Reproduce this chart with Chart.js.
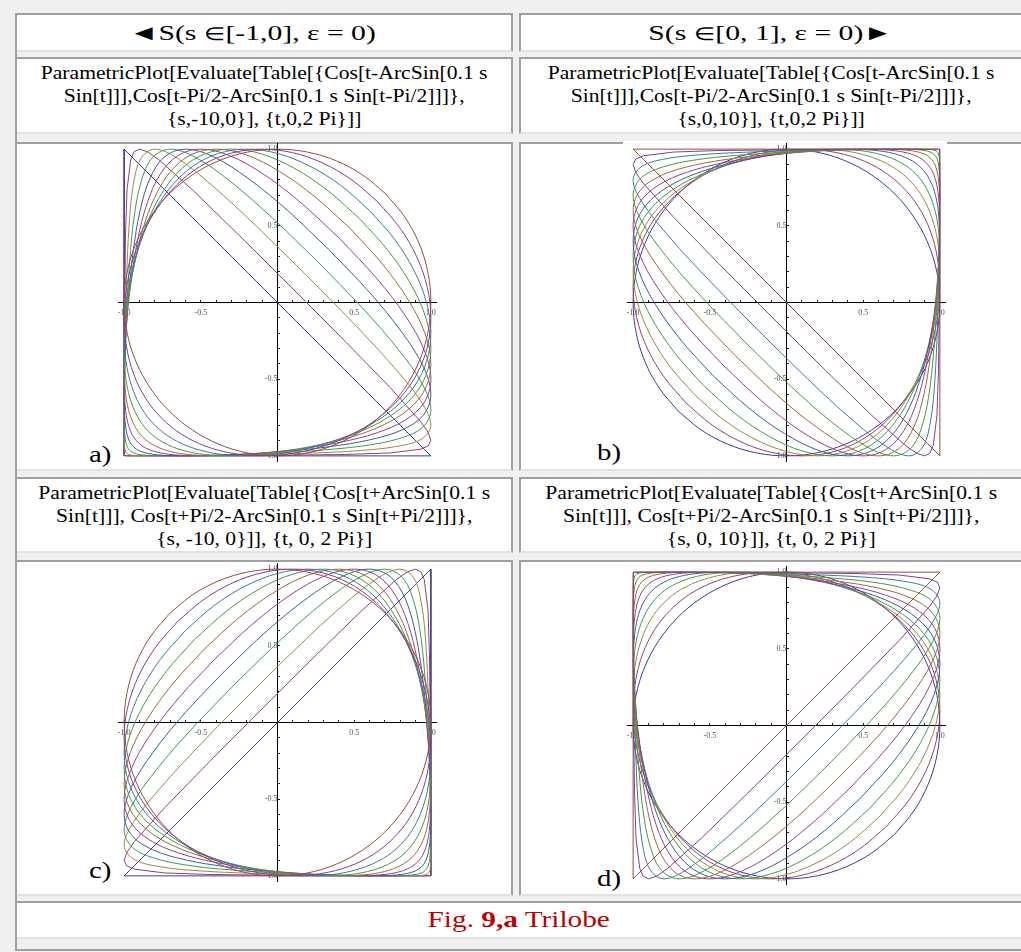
<!DOCTYPE html>
<html>
<head>
<meta charset="utf-8">
<title>Trilobe</title>
<script src="https://cdn.jsdelivr.net/npm/chart.js@4.4.0/dist/chart.umd.min.js"></script>
<style>
  body { margin: 0; background: #f0f0f0; font-family: "Liberation Serif", "Times New Roman", serif; color: #000; }
  #page { position: relative; width: 1021px; height: 952px; overflow: hidden; }
  .cell { position: absolute; background: #fff; box-sizing: border-box;
          border: 2px solid #a0a0a0; border-bottom-color: #e2e2e2; }
  .wide { display: inline-block; transform-origin: 50% 50%; }
  .head { font-size: 22px; line-height: 35px; text-align: center; }
  .head .wide { transform: scaleX(1.35); }
  .head .el { font-size: 0.8em; }
  .code { font-size: 18px; line-height: 23px; text-align: center; padding-top: 3px; }
  .code .wide { transform: scaleX(1.2); }
  .tag { position: absolute; font-size: 24px; line-height: 24px; transform: scaleX(1.2); transform-origin: 0 50%; }
  .fig { font-size: 24px; line-height: 33px; text-align: center; color: #c00000; }
  .fig .wide { transform: scaleX(1.22); }
  .rule { position: absolute; background: #a0a0a0; }
  canvas { position: absolute; }
</style>
</head>
<body>
<div id="page">
  <div class="cell head" style="left:15px;top:13px;width:498px;height:39px;padding-right:24px"><span class="wide">&#9668;S(s <span class="el">&isin;</span>[-1,0], &epsilon; = 0)</span></div>
  <div class="cell head" style="left:519px;top:13px;width:504px;height:39px"><span class="wide">S(s <span class="el">&isin;</span>[0, 1], &epsilon; = 0)&#9658;</span></div>

  <div class="cell code" style="left:15px;top:57px;width:498px;height:77px"><span class="wide">ParametricPlot[Evaluate[Table[{Cos[t-ArcSin[0.1 s<br>Sin[t]]],Cos[t-Pi/2-ArcSin[0.1 s Sin[t-Pi/2]]]},<br>{s,-10,0}], {t,0,2 Pi}]]</span></div>
  <div class="cell code" style="left:519px;top:57px;width:504px;height:77px"><span class="wide">ParametricPlot[Evaluate[Table[{Cos[t-ArcSin[0.1 s<br>Sin[t]]],Cos[t-Pi/2-ArcSin[0.1 s Sin[t-Pi/2]]]},<br>{s,0,10}], {t,0,2 Pi}]]</span></div>

  <div class="cell" style="left:15px;top:142px;width:498px;height:329px"></div>
  <div class="cell" style="left:519px;top:142px;width:504px;height:329px"></div>
  <div style="position:absolute;left:623px;top:141px;width:324px;height:4px;background:#fff"></div>

  <div class="cell code" style="left:15px;top:477px;width:498px;height:76px"><span class="wide">ParametricPlot[Evaluate[Table[{Cos[t+ArcSin[0.1 s<br>Sin[t]]], Cos[t+Pi/2-ArcSin[0.1 s Sin[t+Pi/2]]]},<br>{s, -10, 0}]], {t, 0, 2 Pi}]</span></div>
  <div class="cell code" style="left:519px;top:477px;width:504px;height:76px"><span class="wide">ParametricPlot[Evaluate[Table[{Cos[t+ArcSin[0.1 s<br>Sin[t]]], Cos[t+Pi/2-ArcSin[0.1 s Sin[t+Pi/2]]]},<br>{s, 0, 10}]], {t, 0, 2 Pi}]</span></div>

  <div class="cell" style="left:15px;top:560px;width:498px;height:336px"></div>
  <div class="cell" style="left:519px;top:560px;width:504px;height:336px"></div>

  <div class="cell fig" style="left:15px;top:901px;width:1008px;height:38px"><span class="wide">Fig. <b>9,a</b> Trilobe</span></div>
  <div class="rule" style="left:15px;top:949px;width:1008px;height:2px"></div>
  <div class="rule" style="left:15px;top:13px;width:2px;height:938px"></div>

  <canvas id="plotA" width="319" height="319" style="left:118px;top:143px"></canvas>
  <canvas id="plotB" width="319" height="319" style="left:627px;top:143px"></canvas>
  <canvas id="plotC" width="319" height="319" style="left:118px;top:563px"></canvas>
  <canvas id="plotD" width="319" height="319" style="left:627px;top:566px"></canvas>

  <div class="tag" style="left:89px;top:442px">a)</div>
  <div class="tag" style="left:597px;top:440px">b)</div>
  <div class="tag" style="left:89px;top:858px">c)</div>
  <div class="tag" style="left:597px;top:866px">d)</div>
</div>

<script>
// parameter values, one curve each
const sLeft = [-10, -9, -8, -7, -6, -5, -4, -3, -2, -1, 0];
const sRight = [0, 1, 2, 3, 4, 5, 6, 7, 8, 9, 10];

// curve points for |s| = 0..10 (plot a orientation), traced once round
const curve0 = [[0.707,0.707],[0.556,0.831],[0.383,0.924],[0.195,0.981],[0,1],[-0.195,0.981],[-0.383,0.924],[-0.556,0.831],[-0.707,0.707],[-0.831,0.556],[-0.924,0.383],[-0.981,0.195],[-1,0],[-0.981,-0.195],[-0.924,-0.383],[-0.831,-0.556],[-0.707,-0.707],[-0.556,-0.831],[-0.383,-0.924],[-0.195,-0.981],[0,-1],[0.195,-0.981],[0.383,-0.924],[0.556,-0.831],[0.707,-0.707],[0.831,-0.556],[0.924,-0.383],[0.981,-0.195],[1,0],[0.981,0.195],[0.924,0.383],[0.831,0.556],[0.707,0.707]];
const curve1 = [[0.655,0.655],[0.485,0.799],[0.296,0.909],[0.098,0.977],[-0.1,1],[-0.290,0.977],[-0.466,0.909],[-0.623,0.799],[-0.755,0.655],[-0.861,0.485],[-0.938,0.296],[-0.984,0.098],[-1,-0.1],[-0.984,-0.290],[-0.938,-0.466],[-0.861,-0.623],[-0.755,-0.755],[-0.623,-0.861],[-0.466,-0.938],[-0.290,-0.984],[-0.1,-1],[0.098,-0.984],[0.296,-0.938],[0.485,-0.861],[0.655,-0.755],[0.799,-0.623],[0.909,-0.466],[0.977,-0.290],[1,-0.1],[0.977,0.098],[0.909,0.296],[0.799,0.485],[0.655,0.655]];
const curve2 = [[0.6,0.6],[0.410,0.765],[0.205,0.892],[-0.001,0.972],[-0.2,1],[-0.384,0.972],[-0.547,0.892],[-0.686,0.765],[-0.8,0.6],[-0.888,0.410],[-0.950,0.205],[-0.988,-0.001],[-1,-0.2],[-0.988,-0.384],[-0.950,-0.547],[-0.888,-0.686],[-0.8,-0.8],[-0.686,-0.888],[-0.547,-0.950],[-0.384,-0.988],[-0.2,-1],[-0.001,-0.988],[0.205,-0.950],[0.410,-0.888],[0.6,-0.8],[0.765,-0.686],[0.892,-0.547],[0.972,-0.384],[1,-0.2],[0.972,-0.001],[0.892,0.205],[0.765,0.410],[0.6,0.6]];
const curve3 = [[0.541,0.541],[0.331,0.727],[0.112,0.874],[-0.102,0.968],[-0.3,1],[-0.475,0.968],[-0.624,0.874],[-0.745,0.727],[-0.841,0.541],[-0.912,0.331],[-0.962,0.112],[-0.991,-0.102],[-1,-0.3],[-0.991,-0.475],[-0.962,-0.624],[-0.912,-0.745],[-0.841,-0.841],[-0.745,-0.912],[-0.624,-0.962],[-0.475,-0.991],[-0.3,-1],[-0.102,-0.991],[0.112,-0.962],[0.331,-0.912],[0.541,-0.841],[0.727,-0.745],[0.874,-0.624],[0.968,-0.475],[1,-0.3],[0.968,-0.102],[0.874,0.112],[0.727,0.331],[0.541,0.541]];
const curve4 = [[0.478,0.478],[0.247,0.687],[0.014,0.854],[-0.205,0.963],[-0.4,1],[-0.564,0.963],[-0.697,0.854],[-0.800,0.687],[-0.878,0.478],[-0.934,0.247],[-0.972,0.014],[-0.993,-0.205],[-1,-0.4],[-0.993,-0.564],[-0.972,-0.697],[-0.934,-0.800],[-0.878,-0.878],[-0.800,-0.934],[-0.697,-0.972],[-0.564,-0.993],[-0.4,-1],[-0.205,-0.993],[0.014,-0.972],[0.247,-0.934],[0.478,-0.878],[0.687,-0.800],[0.854,-0.697],[0.963,-0.564],[1,-0.4],[0.963,-0.205],[0.854,0.014],[0.687,0.247],[0.478,0.478]];
const curve5 = [[0.411,0.411],[0.160,0.644],[-0.087,0.834],[-0.311,0.957],[-0.5,1],[-0.651,0.957],[-0.766,0.834],[-0.851,0.644],[-0.911,0.411],[-0.953,0.160],[-0.980,-0.087],[-0.995,-0.311],[-1,-0.5],[-0.995,-0.651],[-0.980,-0.766],[-0.953,-0.851],[-0.911,-0.911],[-0.851,-0.953],[-0.766,-0.980],[-0.651,-0.995],[-0.5,-1],[-0.311,-0.995],[-0.087,-0.980],[0.160,-0.953],[0.411,-0.911],[0.644,-0.851],[0.834,-0.766],[0.957,-0.651],[1,-0.5],[0.957,-0.311],[0.834,-0.087],[0.644,0.160],[0.411,0.411]];
const curve6 = [[0.340,0.340],[0.067,0.599],[-0.194,0.811],[-0.419,0.951],[-0.6,1],[-0.735,0.951],[-0.831,0.811],[-0.896,0.599],[-0.940,0.340],[-0.969,0.067],[-0.987,-0.194],[-0.997,-0.419],[-1,-0.6],[-0.997,-0.735],[-0.987,-0.831],[-0.969,-0.896],[-0.940,-0.940],[-0.896,-0.969],[-0.831,-0.987],[-0.735,-0.997],[-0.6,-1],[-0.419,-0.997],[-0.194,-0.987],[0.067,-0.969],[0.340,-0.940],[0.599,-0.896],[0.811,-0.831],[0.951,-0.735],[1,-0.6],[0.951,-0.419],[0.811,-0.194],[0.599,0.067],[0.340,0.340]];
const curve7 = [[0.264,0.264],[-0.032,0.550],[-0.306,0.788],[-0.532,0.945],[-0.7,1],[-0.815,0.945],[-0.889,0.788],[-0.936,0.550],[-0.964,0.264],[-0.982,-0.032],[-0.993,-0.306],[-0.998,-0.532],[-1,-0.7],[-0.998,-0.815],[-0.993,-0.889],[-0.982,-0.936],[-0.964,-0.964],[-0.936,-0.982],[-0.889,-0.993],[-0.815,-0.998],[-0.7,-1],[-0.532,-0.998],[-0.306,-0.993],[-0.032,-0.982],[0.264,-0.964],[0.550,-0.936],[0.788,-0.889],[0.945,-0.815],[1,-0.7],[0.945,-0.532],[0.788,-0.306],[0.550,-0.032],[0.264,0.264]];
const curve8 = [[0.183,0.183],[-0.138,0.498],[-0.425,0.762],[-0.649,0.938],[-0.8,1],[-0.891,0.938],[-0.941,0.762],[-0.968,0.498],[-0.983,0.183],[-0.992,-0.138],[-0.997,-0.425],[-0.999,-0.649],[-1,-0.8],[-0.999,-0.891],[-0.997,-0.941],[-0.992,-0.968],[-0.983,-0.983],[-0.968,-0.992],[-0.941,-0.997],[-0.891,-0.999],[-0.8,-1],[-0.649,-0.999],[-0.425,-0.997],[-0.138,-0.992],[0.183,-0.983],[0.498,-0.968],[0.762,-0.941],[0.938,-0.891],[1,-0.8],[0.938,-0.649],[0.762,-0.425],[0.498,-0.138],[0.183,0.183]];
const curve9 = [[0.095,0.095],[-0.254,0.442],[-0.556,0.736],[-0.774,0.931],[-0.848,0.983],[-0.9,1],[-0.935,0.983],[-0.957,0.931],[-0.981,0.736],[-0.991,0.442],[-0.995,0.095],[-0.998,-0.254],[-0.999,-0.556],[-1,-0.774],[-1,-0.9],[-1,-0.957],[-0.999,-0.981],[-0.998,-0.991],[-0.995,-0.995],[-0.991,-0.998],[-0.981,-0.999],[-0.957,-1],[-0.9,-1],[-0.774,-1],[-0.556,-0.999],[-0.254,-0.998],[0.095,-0.995],[0.442,-0.991],[0.736,-0.981],[0.931,-0.957],[0.983,-0.935],[1,-0.9],[0.983,-0.848],[0.931,-0.774],[0.736,-0.556],[0.442,-0.254],[0.095,0.095]];
const curve10 = [[-1,0],[-1,-1],[1,-1],[-1,1],[-1,0]];

const curves = [curve0, curve1, curve2, curve3, curve4, curve5, curve6, curve7, curve8, curve9, curve10];

// default plot colours, in drawing order
const palette = ['#3d3d99', '#993d73', '#998a3d', '#3d9954', '#3d5c99', '#993d91',
                 '#996b3d', '#45993d', '#3d7a99', '#823d99', '#994d3d'];

const tickLabels = [-1, -0.5, 0.5, 1];

function buildSets(sValues, fx, fy) {
  return sValues.map((s, i) => ({
    label: 's = ' + s,
    data: curves[Math.abs(s)].map(([x, y]) => ({ x: fx * x, y: fy * y })),
    borderColor: palette[i],
    borderWidth: 1,
    borderJoinStyle: 'round',
    pointRadius: 0,
    showLine: true,
    fill: false,
    // the two sharpest shapes are drawn as straight runs
    tension: Math.abs(s) >= 9 ? 0 : 0.35,
    order: sValues.length - i
  }));
}

function axis(pos, pad) {
  return {
    type: 'linear',
    min: -1.04,
    max: 1.04,
    position: pos,
    // axes sit inside the plot, so they take no room of their own
    afterFit: (sc) => {
      if (sc.isHorizontal()) sc.height = 0; else sc.width = 0;
      sc.paddingLeft = sc.paddingRight = sc.paddingTop = sc.paddingBottom = 0;
    },
    border: { display: true, color: '#000', width: 1 },
    grid: { drawOnChartArea: false, drawTicks: true, tickLength: -3, tickColor: '#222', tickWidth: 1 },
    ticks: {
      stepSize: 0.1,
      includeBounds: false,
      autoSkip: false,
      maxRotation: 0,
      padding: pad,
      color: '#555',
      font: { family: 'Liberation Serif', size: 8 },
      callback: (v) => tickLabels.includes(Math.round(v * 10) / 10) ? v.toFixed(1) : ''
    }
  };
}

function plot(id, sValues, fx, fy) {
  new Chart(document.getElementById(id), {
    type: 'scatter',
    data: { datasets: buildSets(sValues, fx, fy) },
    options: {
      responsive: false,
      animation: false,
      layout: { padding: 0 },
      plugins: { legend: { display: false }, tooltip: { enabled: false } },
      scales: {
        x: axis({ y: 0 }, 9),
        y: axis({ x: 0 }, 8)
      }
    }
  });
}

plot('plotA', sLeft, 1, 1);
plot('plotB', sRight, -1, -1);
plot('plotC', sLeft, -1, 1);
plot('plotD', sRight, 1, -1);
</script>
</body>
</html>
